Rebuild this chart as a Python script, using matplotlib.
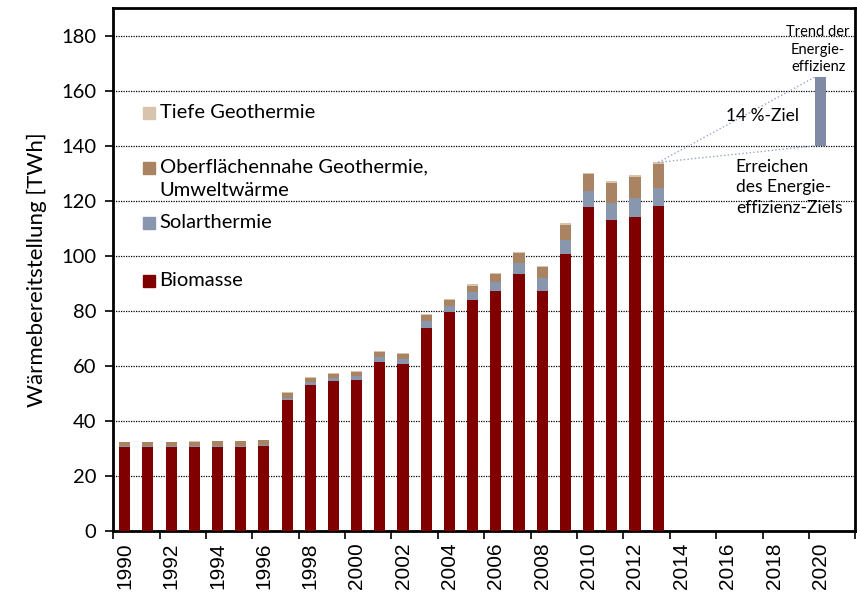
import numpy as np
import matplotlib.pyplot as plt

years = list(range(1990, 2022))
data_years = list(range(1990, 2014))

biomasse = [30.6, 30.5, 30.5, 30.5, 30.6, 30.6, 30.9, 47.8, 53.1, 54.6, 54.9, 61.6,
            60.6, 73.9, 79.5, 84.0, 87.1, 93.4, 87.2, 100.7, 117.8, 113.0, 114.3, 118.1]
solar = [0.2, 0.25, 0.3, 0.35, 0.4, 0.45, 0.5, 0.7, 0.9, 1.2, 1.5, 1.7,
         1.8, 2.5, 2.4, 3.0, 3.6, 4.0, 4.6, 5.2, 5.7, 6.4, 6.7, 6.6]
oberflaeche = [1.6, 1.6, 1.6, 1.6, 1.6, 1.6, 1.6, 1.7, 1.8, 1.4, 1.4, 1.8,
               2.0, 2.1, 1.9, 2.2, 2.6, 3.5, 4.1, 5.3, 6.1, 7.0, 7.8, 8.7]
tiefe = [0.1, 0.1, 0.1, 0.1, 0.1, 0.1, 0.1, 0.2, 0.2, 0.3, 0.3, 0.3,
         0.3, 0.4, 0.4, 0.5, 0.6, 0.6, 0.6, 0.6, 0.7, 0.7, 0.7, 0.6]

trend_year = 2020
trend_low = 140
trend_high = 165

c_bio = "#800000"
c_solar = "#8896ae"
c_ober = "#aa8462"
c_tiefe = "#d8c4ac"

fig = plt.figure(figsize=(8.57, 5.94), dpi=100)
ax = fig.add_axes([0.132, 0.106, 0.866, 0.880])

x = np.array([years.index(y) for y in data_years])
w = 0.48
b = np.zeros(len(x))
for vals, col in [(biomasse, c_bio), (solar, c_solar), (oberflaeche, c_ober), (tiefe, c_tiefe)]:
    ax.bar(x, vals, w, bottom=b, color=col, zorder=3)
    b = b + np.array(vals)

xt = years.index(trend_year)
ax.bar(xt, trend_high - trend_low, w, bottom=trend_low, color="#7f8ba5", zorder=3)

# dotted guide lines from last bar to the trend bar
x_last = x[-1]
ax.plot([x_last, xt - w / 2], [b[-1], trend_high], ls=":", color="#9aa6c8", lw=1, zorder=4)
ax.plot([x_last, xt - w / 2], [b[-1], trend_low], ls=":", color="#9aa6c8", lw=1, zorder=4)

ax.set_xlim(-0.5, len(years) - 0.5)
ax.set_ylim(0, 190)
ax.set_yticks(range(0, 181, 20))
ax.yaxis.grid(True, ls=(0, (1, 1)), color="black", lw=0.9, zorder=0)

ax.set_xticks(np.arange(-0.5, len(years), 2))
ax.set_xticklabels([])
ax.set_xticks(np.arange(0, len(years), 2), minor=True)
ax.set_xticklabels([str(y) for y in years[::2]], minor=True, rotation=90,
                   fontsize=15, family="Liberation Sans")
ax.tick_params(axis="x", which="minor", length=0, pad=8)
ax.tick_params(axis="x", which="major", length=6, width=1.2)
ax.tick_params(axis="y", length=6, width=1.2, labelsize=14.5, pad=6)
for t in ax.get_yticklabels():
    t.set_family("Lato")

for s in ax.spines.values():
    s.set_linewidth(2)

ax.set_ylabel("Wärmebereitstellung [TWh]", fontsize=16, family="Lato", labelpad=10)

# legend as text in the plot
lf = "Lato"
entries = [(152, c_tiefe, "Tiefe Geothermie"),
           (132, c_ober, "Oberflächennahe Geothermie,\nUmweltwärme"),
           (112, c_solar, "Solarthermie"),
           (91, c_bio, "Biomasse")]
for yv, col, lab in entries:
    ax.plot(1.05, yv, marker="s", ms=9, color=col, ls="none", zorder=5)
    if "\n" in lab:
        ax.text(1.5, yv + 3.5, lab, fontsize=14.5, family=lf, va="top",
                linespacing=1.45, zorder=5)
    else:
        ax.text(1.5, yv, lab, fontsize=14.5, family=lf, va="center", zorder=5)

ax.text(xt - 0.1, 175, "Trend der\nEnergie-\neffizienz", fontsize=10.5, family=lf,
        ha="center", va="center", linespacing=1.3, zorder=5)
ax.text(27.5, 151, "14 %-Ziel", fontsize=12.5, family=lf, ha="center", va="center", zorder=5)
ax.text(26.35, 125, "Erreichen\ndes Energie-\neffizienz-Ziels", fontsize=12.5, family=lf,
        ha="left", va="center", linespacing=1.35, zorder=5)

fig.savefig("out.png", dpi=100)
